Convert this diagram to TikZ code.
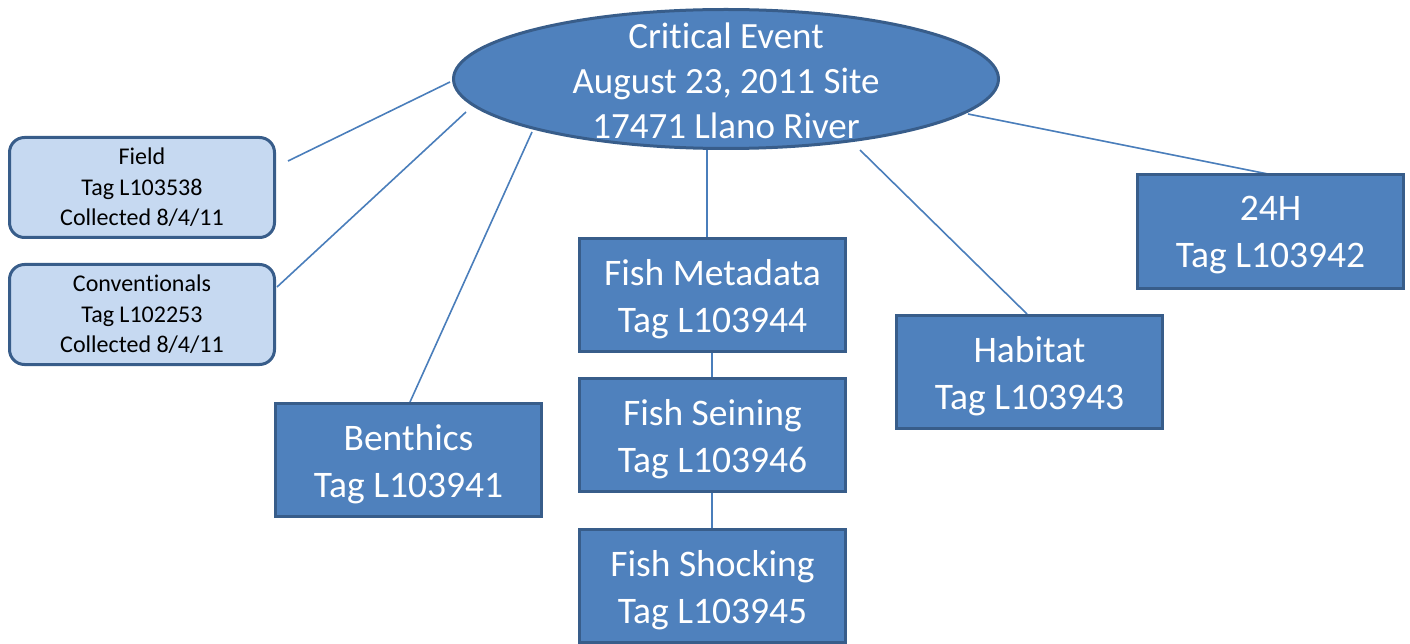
\documentclass[tikz,border=0pt]{standalone}
\usepackage{fontspec}
\setmainfont{Carlito}[RawFeature={-liga;-clig;-calt;-dlig}]
\usetikzlibrary{shapes.geometric}
\definecolor{boxfill}{HTML}{4F81BD}
\definecolor{boxline}{HTML}{385D8A}
\definecolor{lightfill}{HTML}{C6D9F1}
\definecolor{linkcol}{HTML}{4A7EBB}
\tikzset{
  bigbox/.style={draw=boxline, fill=boxfill, line width=3pt, minimum width=266pt, minimum height=113pt,
    inner sep=0pt},
  bigtext/.style={text=white, align=center, font=\fontsize{37.5}{47}\selectfont},
  smallbox/.style={draw=boxline, fill=lightfill, line width=3pt, rounded corners=15pt, minimum width=265pt,
    minimum height=100pt, inner sep=0pt, text=black, align=center, font=\fontsize{24}{30.5}\selectfont},
  link/.style={draw=linkcol, line width=1.6pt}
}
\begin{document}
\begin{tikzpicture}[x=1pt,y=-1pt]
\useasboundingbox (0,0) rectangle (1410,644);
% connectors
\coordinate (fA) at (288,161);
\coordinate (fB) at (450,82);
\coordinate (cA) at (277,287);
\coordinate (cB) at (466,112);
\coordinate (bA) at (410,402);
\coordinate (bB) at (532,132);
\coordinate (mA) at (707,237);
\coordinate (mB) at (707,148);
\coordinate (hA) at (1027,314);
\coordinate (hB) at (860,150);
\coordinate (tA) at (1268,174);
\coordinate (tB) at (968,114);
\coordinate (s1) at (712,352);
\coordinate (s2) at (712,378);
\coordinate (s3) at (712,492);
\coordinate (s4) at (712,530);
\draw[link] (fA) -- (fB);
\draw[link] (cA) -- (cB);
\draw[link] (bA) -- (bB);
\draw[link] (mA) -- (mB);
\draw[link] (hA) -- (hB);
\draw[link] (tA) -- (tB);
\draw[link] (s1) -- (s2);
\draw[link] (s3) -- (s4);
% central ellipse
\node[ellipse, draw=boxline, fill=boxfill, line width=3pt, minimum width=545pt, minimum height=139pt, inner sep=0pt]
  (crit) at (726,79) {};
\node[text=white, align=center, font=\fontsize{37}{45}\selectfont] (crittext) at (726,81)
  {Crit\kern0pt ical Event\\August 23, 2011 Site\\17471 Llano River};
% small boxes
\node[smallbox] (field) at (142,187.5) {Field\\Tag L103538\\Collected 8/4/11};
\node[smallbox] (conv) at (142,314.5) {Conven\kern0pt t\kern0pt ionals\\Tag L102253\\Collected 8/4/11};
% big boxes
\node[bigbox] (benth) at (408.5,460) {};
\node[bigtext] (benthT) at (408.5,464) {Benthics\\Tag L103941};
\node[bigbox] (meta) at (712.5,295) {};
\node[bigtext] (metaT) at (712.5,299) {Fish Metadata\\Tag L103944};
\node[bigbox] (sein) at (712.5,435) {};
\node[bigtext] (seinT) at (712.5,439) {Fish Seining\\Tag L103946};
\node[bigbox] (shock) at (712.5,586) {};
\node[bigtext] (shockT) at (712.5,590) {Fish Shocking\\Tag L103945};
\node[bigbox] (hab) at (1029.5,372) {};
\node[bigtext] (habT) at (1029.5,376) {Habitat\\Tag L103943};
\node[bigbox] (h24) at (1270.5,231.5) {};
\node[bigtext] (h24T) at (1270.5,235.5) {24H\\Tag L103942};
\end{tikzpicture}
\end{document}
